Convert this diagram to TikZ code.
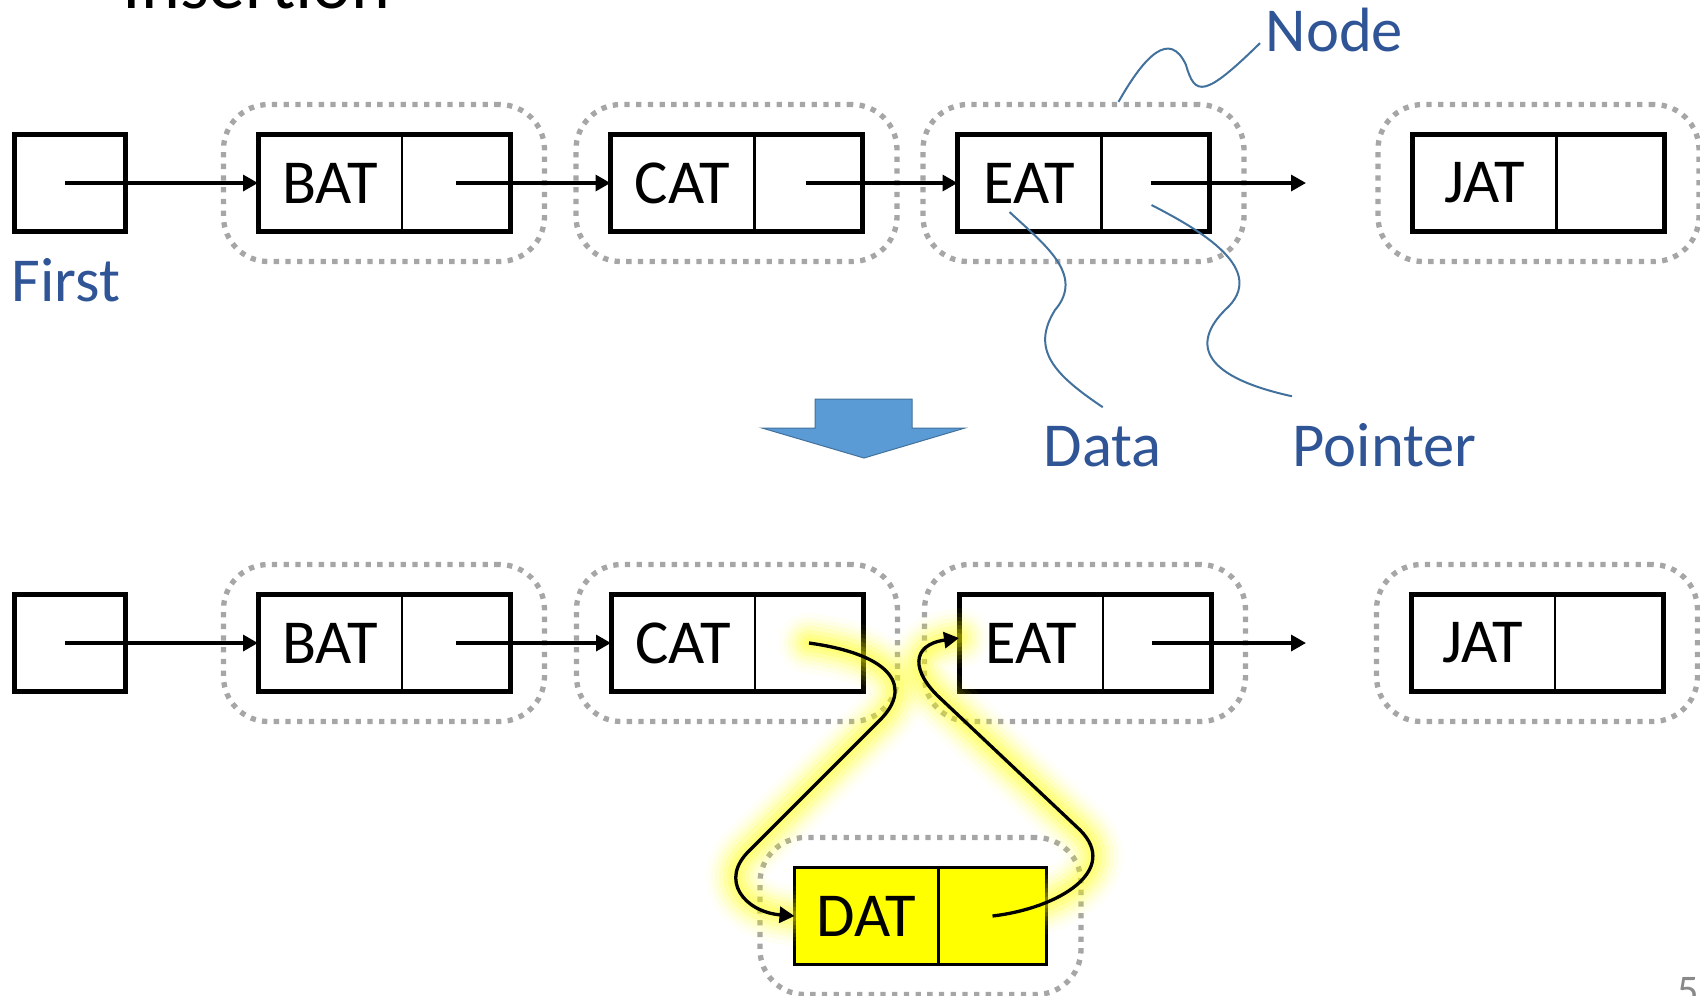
\documentclass[tikz,border=0pt]{standalone}
\usepackage{fontspec}
\setmainfont{Carlito}
\usetikzlibrary{arrows.meta,fit,positioning}

\definecolor{labelblue}{RGB}{47,85,151}
\definecolor{calloutblue}{RGB}{65,113,156}
\definecolor{dotgray}{RGB}{166,166,166}
\definecolor{arrowblue}{RGB}{91,155,213}
\definecolor{hilite}{RGB}{255,255,0}
\definecolor{pagegray}{RGB}{137,137,137}

\tikzset{datacell/.style={draw, line width=0.022cm, minimum width=1.44cm, minimum height=0.97cm, inner sep=0pt, outer sep=0pt, font=\fontsize{17.8}{21}\selectfont}}
\tikzset{ptrcell/.style={draw, line width=0.022cm, minimum width=1.08cm, minimum height=0.97cm, inner sep=0pt, outer sep=0pt}}
\tikzset{firstbox/.style={draw, line width=0.05cm, minimum width=1.10cm, minimum height=0.97cm, inner sep=0pt, outer sep=0pt}}
\tikzset{boxframe/.style={line width=0.05cm}}
\tikzset{nodegroup/.style={draw=dotgray, line width=0.053cm, dash pattern=on 0.053cm off 0.064cm, rounded corners=0.45cm, inner xsep=0.345cm, inner ysep=0.30cm}}
\tikzset{link/.style={-{Triangle[length=0.15cm,width=0.16cm]}, line width=0.033cm}}
\tikzset{callout/.style={draw=calloutblue, line width=0.02cm}}
\tikzset{bluetext/.style={text=labelblue, inner sep=0pt, font=\fontsize{17.8}{21}\selectfont}}
\tikzset{glow/.style={
    preaction={draw=hilite, line width=0.60cm, opacity=0.04, line cap=round, arrows=-},
    preaction={draw=hilite, line width=0.50cm, opacity=0.06, line cap=round, arrows=-},
    preaction={draw=hilite, line width=0.42cm, opacity=0.08, line cap=round, arrows=-},
    preaction={draw=hilite, line width=0.34cm, opacity=0.10, line cap=round, arrows=-},
    preaction={draw=hilite, line width=0.26cm, opacity=0.12, line cap=round, arrows=-},
    preaction={draw=hilite, line width=0.18cm, opacity=0.14, line cap=round, arrows=-},
    preaction={draw=hilite, line width=0.10cm, opacity=0.16, line cap=round, arrows=-}}}

\begin{document}
\begin{tikzpicture}[every node/.style={align=center}]
  \useasboundingbox (0,0) rectangle (17,-9.95);

  % slide title and page number, cut by the page edge
  \node[anchor=base west, inner sep=0pt, font=\fontsize{21}{25}\selectfont] (Title) at (1.22,-0.08) {Insertion};
  \node[anchor=north west, inner sep=0pt, text=pagegray, font=\fontsize{12}{14}\selectfont] (PageNo) at (16.77,-9.77) {5};

  % list before insertion
  \node[firstbox] (First) at (0.70,-1.83) {};
  \node[datacell] (BAT) at (3.30,-1.83) {BAT};
  \node[ptrcell, right=0pt of BAT] (BATptr) {};
  \node[datacell] (CAT) at (6.825,-1.83) {CAT};
  \node[ptrcell, right=0pt of CAT] (CATptr) {};
  \node[datacell] (EAT) at (10.295,-1.83) {EAT};
  \node[ptrcell, right=0pt of EAT] (EATptr) {};
  \node[datacell] (JAT) at (14.845,-1.83) {JAT};
  \node[ptrcell, right=0pt of JAT] (JATptr) {};

  \draw[boxframe] (BAT.north west) rectangle (BATptr.south east);
  \draw[boxframe] (CAT.north west) rectangle (CATptr.south east);
  \draw[boxframe] (EAT.north west) rectangle (EATptr.south east);
  \draw[boxframe] (JAT.north west) rectangle (JATptr.south east);

  \node[nodegroup, fit=(BAT)(BATptr)] (BATgroup) {};
  \node[nodegroup, fit=(CAT)(CATptr)] (CATgroup) {};
  \node[nodegroup, fit=(EAT)(EATptr)] (EATgroup) {};
  \node[nodegroup, fit=(JAT)(JATptr)] (JATgroup) {};

  \node[bluetext, anchor=base west] (FirstLabel) at (0.11,-3.01) {First};
  \node[bluetext, anchor=base west] (NodeLabel) at (12.65,-0.51) {Node};
  \node[bluetext, anchor=base west] (DataLabel) at (10.43,-4.66) {Data};
  \node[bluetext, anchor=base west] (PointerLabel) at (12.92,-4.66) {Pointer};

  \coordinate (EATnext) at (13.06,-1.83);
  \draw[link] ([xshift=-0.05cm]First.center) -- (BAT.west);
  \draw[link] (BATptr.center) -- (CAT.west);
  \draw[link] ([xshift=-0.03cm]CATptr.center) -- (EAT.west);
  \draw[link] ([xshift=-0.05cm]EATptr.center) -- (EATnext);

  \draw[callout] ([xshift=0.35cm]EATgroup.north) .. controls (11.45,-0.55) and (11.70,-0.30) .. (11.86,-0.65)
    .. controls (11.95,-0.97) and (12.05,-0.97) .. ([shift={(-0.05,0.09)}]NodeLabel.south west);
  \draw[callout] ([shift={(-0.20,-0.29)}]EAT.center) .. controls (10.45,-2.45) and (10.85,-2.75) .. (10.55,-3.10)
    .. controls (10.30,-3.50) and (10.55,-3.75) .. ([yshift=0.18cm]DataLabel.north);
  \draw[callout] ([shift={(-0.04,-0.22)}]EATptr.center) .. controls (12.00,-2.30) and (12.70,-2.70) .. (12.25,-3.10)
    .. controls (11.95,-3.40) and (11.95,-3.75) .. ([yshift=0.26cm]PointerLabel.north west);

  % block arrow
  \draw[draw=calloutblue, fill=arrowblue, line width=0.01cm] (8.15,-3.99) -- (9.12,-3.99) -- (9.12,-4.28) -- (9.65,-4.28)
    -- (8.64,-4.58) -- (7.62,-4.28) -- (8.15,-4.28) -- cycle;

  % list after insertion
  \node[firstbox] (First2) at (0.70,-6.43) {};
  \node[datacell] (BAT2) at (3.30,-6.43) {BAT};
  \node[ptrcell, right=0pt of BAT2] (BATptr2) {};
  \node[datacell] (CAT2) at (6.83,-6.43) {CAT};
  \node[ptrcell, right=0pt of CAT2] (CATptr2) {};
  \node[datacell] (EAT2) at (10.31,-6.43) {EAT};
  \node[ptrcell, right=0pt of EAT2] (EATptr2) {};
  \node[datacell] (JAT2) at (14.83,-6.43) {JAT};
  \node[ptrcell, right=0pt of JAT2] (JATptr2) {};
  \node[datacell, fill=hilite] (DAT) at (8.665,-9.16) {DAT};
  \node[ptrcell, fill=hilite, right=0pt of DAT] (DATptr) {};

  \draw[boxframe] (BAT2.north west) rectangle (BATptr2.south east);
  \draw[boxframe] (CAT2.north west) rectangle (CATptr2.south east);
  \draw[boxframe] (EAT2.north west) rectangle (EATptr2.south east);
  \draw[boxframe] (JAT2.north west) rectangle (JATptr2.south east);

  \node[nodegroup, fit=(BAT2)(BATptr2)] (BATgroup2) {};
  \node[nodegroup, fit=(CAT2)(CATptr2)] (CATgroup2) {};
  \node[nodegroup, fit=(EAT2)(EATptr2)] (EATgroup2) {};
  \node[nodegroup, fit=(JAT2)(JATptr2)] (JATgroup2) {};
  \node[nodegroup, fit=(DAT)(DATptr)] (DATgroup) {};

  \coordinate (EATnext2) at (13.06,-6.43);
  \draw[link] ([xshift=-0.05cm]First2.center) -- (BAT2.west);
  \draw[link] (BATptr2.center) -- (CAT2.west);
  \draw[link] ([xshift=-0.05cm]EATptr2.center) -- (EATnext2);

  \draw[link, glow] (CATptr2.center) .. controls (8.95,-6.55) and (9.12,-6.88) .. (8.80,-7.20)
    -- (7.50,-8.50) .. controls (7.18,-8.80) and (7.45,-9.12) .. (DAT.west);
  \draw[link, glow] (DATptr.center) .. controls (10.60,-9.08) and (11.20,-8.70) .. (10.80,-8.30)
    -- (9.40,-6.98) .. controls (9.12,-6.72) and (9.10,-6.45) .. ([yshift=0.05cm]EAT2.west);

\end{tikzpicture}
\end{document}
